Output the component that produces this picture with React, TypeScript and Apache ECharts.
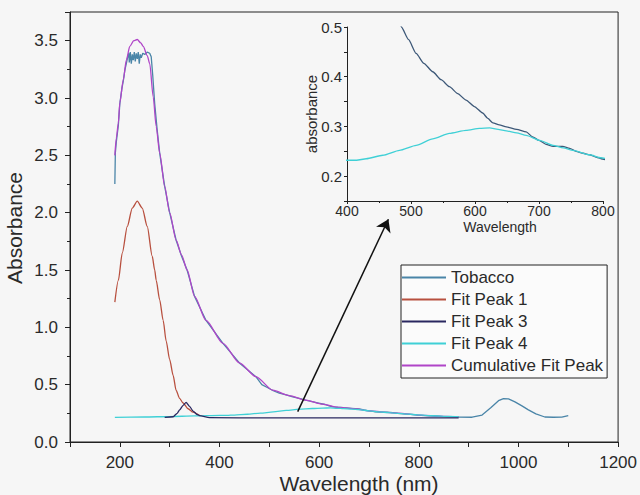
import React, { useEffect, useRef } from "react";
import * as echarts from "echarts";

const FONT = "'Liberation Sans', Arial, Helvetica, sans-serif";

const legendNames = ["Tobacco", "Fit Peak 1", "Fit Peak 3", "Fit Peak 4", "Cumulative Fit Peak"];

// Measured spectrum [wavelength (nm), absorbance]
const tobacco: number[][] = [
  [190, 2.25], [191, 2.52], [193, 2.62], [197, 2.76], [200, 2.95], [204, 3.08], [207, 3.15], [210, 3.24],
  [213, 3.3], [216, 3.36], [218, 3.39], [219, 3.31], [221, 3.4], [223, 3.3], [225, 3.38], [227, 3.33],
  [229, 3.4], [231, 3.32], [233, 3.39], [235, 3.34], [237, 3.4], [239, 3.3], [241, 3.38], [243, 3.35],
  [246, 3.39], [250, 3.38], [255, 3.4], [260, 3.39], [263, 3.36], [266, 3.2], [270, 2.95], [275, 2.72],
  [280, 2.52], [290, 2.23], [300, 2.0], [313, 1.76], [324, 1.62], [335, 1.5], [350, 1.27], [373, 1.06],
  [407, 0.86], [440, 0.69], [473, 0.57], [485, 0.5], [496, 0.475], [508, 0.447], [520, 0.427], [534, 0.41],
  [547, 0.394], [560, 0.38], [573, 0.366], [586, 0.353], [599, 0.34], [612, 0.327], [620, 0.316], [628, 0.307],
  [638, 0.303], [649, 0.299], [665, 0.294], [680, 0.289], [690, 0.279], [700, 0.272], [711, 0.264], [722, 0.26],
  [737, 0.26], [748, 0.256], [758, 0.25], [769, 0.246], [779, 0.243], [790, 0.238], [797, 0.235], [820, 0.228],
  [850, 0.222], [880, 0.218], [907, 0.216], [927, 0.235], [945, 0.3], [960, 0.36], [970, 0.378], [980, 0.376],
  [993, 0.35], [1007, 0.315], [1020, 0.28], [1035, 0.245], [1053, 0.218], [1070, 0.216], [1087, 0.217], [1100, 0.23],
];

const fitPeak1: number[][] = [
  [190, 1.22], [197, 1.41], [205, 1.65], [215, 1.88], [225, 2.04], [235, 2.1], [245, 2.04], [255, 1.88],
  [265, 1.62], [270, 1.5], [273, 1.41], [280, 1.24], [287, 1.06], [293, 0.88], [300, 0.72], [307, 0.58],
  [313, 0.45], [320, 0.38], [327, 0.34], [337, 0.29], [347, 0.26], [360, 0.23],
];

const fitPeak3: number[][] = [
  [290, 0.215], [307, 0.22], [315, 0.25], [320, 0.28], [327, 0.32], [333, 0.345], [340, 0.31], [347, 0.27],
  [355, 0.24], [360, 0.23], [380, 0.212], [500, 0.21], [700, 0.21], [880, 0.21],
];

const fitPeak4: number[][] = [
  [190, 0.215], [250, 0.218], [300, 0.222], [350, 0.227], [400, 0.232], [415, 0.232], [430, 0.235], [456, 0.242],
  [482, 0.252], [508, 0.262], [534, 0.275], [560, 0.286], [586, 0.292], [607, 0.296], [623, 0.297], [636, 0.294],
  [649, 0.291], [665, 0.287], [680, 0.282], [701, 0.272], [722, 0.262], [738, 0.257], [753, 0.252], [779, 0.243],
  [797, 0.237], [830, 0.229], [860, 0.223], [880, 0.22],
];

const cumulative: number[][] = [
  [190, 2.5], [193, 2.65], [197, 2.78], [200, 2.96], [207, 3.16], [213, 3.33], [220, 3.45], [228, 3.5],
  [235, 3.51], [242, 3.48], [247, 3.45], [255, 3.37], [260, 3.3], [267, 3.01], [273, 2.75], [280, 2.52],
  [290, 2.23], [300, 2.0], [313, 1.76], [324, 1.63], [335, 1.5], [350, 1.27], [373, 1.06], [407, 0.86],
  [440, 0.69], [473, 0.57], [507, 0.452], [540, 0.405], [573, 0.366], [607, 0.33], [640, 0.302], [673, 0.288],
  [700, 0.272], [750, 0.254], [800, 0.235], [850, 0.224], [880, 0.22],
];

// Arrow from main plot toward the inset (data coords of main axes)
const arrowFrom = [557, 0.265];
const arrowTo = [739, 1.943];

const COLORS = {
  tobacco: "#4a85a8",
  tobaccoInset: "#3d5878",
  peak1: "#b8503f",
  peak3: "#2a2860",
  peak4: "#3fd0d6",
  cumulative: "#b045c8",
  axis: "#222222",
  text: "#2a2a2a",
};

function lineSeries(name: string, data: number[][], color: string, idx: number, smooth: number | boolean, extra: any = {}) {
  return {
    type: "line",
    name,
    data,
    xAxisIndex: idx,
    yAxisIndex: idx,
    showSymbol: false,
    symbol: "none",
    color,
    smooth,
    smoothMonotone: "x",
    lineStyle: { color, width: 1.3 },
    itemStyle: { color },
    emphasis: { disabled: true },
    ...extra,
  };
}

export default function App() {
  const ref = useRef<HTMLDivElement>(null);

  useEffect(() => {
    if (!ref.current) return;
    const chart = echarts.init(ref.current, null, { renderer: "svg" });
    const axisLine = { show: true, lineStyle: { color: COLORS.axis, width: 1 } };
    chart.setOption({
      animation: false,
      backgroundColor: "#f6f6f6",
      textStyle: { fontFamily: FONT },
      grid: [
        { left: 70, top: 12, width: 550, height: 430, show: true, borderColor: COLORS.axis, borderWidth: 1, backgroundColor: "transparent" },
        { left: 347, top: 27, width: 256, height: 174, show: false },
      ],
      xAxis: [
        {
          type: "value", gridIndex: 0, min: 100, max: 1200, interval: 100,
          axisLine, splitLine: { show: false },
          axisTick: { show: true, length: 5, lineStyle: { color: COLORS.axis } },
          axisLabel: {
            fontSize: 17, color: COLORS.text, margin: 12, fontFamily: FONT,
            formatter: (v: number) => (Math.round(v) % 200 === 0 ? String(Math.round(v)) : ""),
          },
        },
        {
          type: "value", gridIndex: 1, min: 400, max: 800, interval: 100,
          axisLine, splitLine: { show: false },
          axisTick: { show: true, length: 3, lineStyle: { color: COLORS.axis } },
          minorTick: { show: true, splitNumber: 2, length: 2, lineStyle: { color: COLORS.axis } },
          axisLabel: { fontSize: 14, lineHeight: 14, color: COLORS.text, margin: 3, fontFamily: FONT },
        },
      ],
      yAxis: [
        {
          type: "value", gridIndex: 0, min: 0, max: 3.75, interval: 0.5,
          axisLine, splitLine: { show: false },
          axisTick: { show: true, length: 5, lineStyle: { color: COLORS.axis } },
          minorTick: { show: true, splitNumber: 2, length: 3, lineStyle: { color: COLORS.axis } },
          axisLabel: {
            fontSize: 17, color: COLORS.text, margin: 12, fontFamily: FONT,
            formatter: (v: number) => (v > 3.6 ? "" : v.toFixed(1)),
          },
        },
        {
          type: "value", gridIndex: 1, min: 0.15, max: 0.5, interval: 0.05,
          axisLine, splitLine: { show: false },
          axisTick: { show: true, length: 3, lineStyle: { color: COLORS.axis } },
          axisLabel: {
            fontSize: 15, color: COLORS.text, margin: 5, fontFamily: FONT,
            formatter: (v: number) => {
              const r = Math.round(v * 100);
              return r % 10 === 0 ? (r / 100).toFixed(1) : "";
            },
          },
        },
      ],
      legend: {
        data: legendNames,
        orient: "vertical",
        left: 401,
        top: 265,
        padding: [4, 4, 4, 1],
        itemGap: 5,
        itemWidth: 44,
        itemHeight: 2,
        icon: "rect",
        selectedMode: false,
        borderColor: COLORS.axis,
        borderWidth: 1,
        backgroundColor: "#fbfbfb",
        textStyle: { fontSize: 17, lineHeight: 17, color: COLORS.text, fontFamily: FONT },
      },
      series: [
        lineSeries("Tobacco", tobacco, COLORS.tobacco, 0, false),
        lineSeries("Cumulative Fit Peak", cumulative, COLORS.cumulative, 0, 0.25),
        lineSeries("Fit Peak 1", fitPeak1, COLORS.peak1, 0, 0.25),
        lineSeries("Fit Peak 4", fitPeak4, COLORS.peak4, 0, 0.25),
        lineSeries("Fit Peak 3", fitPeak3, COLORS.peak3, 0, 0.2, {
          markLine: {
            silent: true,
            symbol: ["none", "arrow"],
            symbolSize: 12,
            label: { show: false },
            lineStyle: { color: "#111", width: 1.5, type: "solid" },
            emphasis: { disabled: true },
            data: [[{ coord: arrowFrom }, { coord: arrowTo }]],
          },
        }),
        lineSeries("Tobacco (inset)", tobacco, COLORS.tobaccoInset, 1, 0.2),
        lineSeries("Fit Peak 4 (inset)", fitPeak4, COLORS.peak4, 1, 0.2),
      ],
      graphic: [
        {
          type: "text", x: 14, y: 228, rotation: Math.PI / 2,
          style: { text: "Absorbance", fontSize: 21, fontFamily: FONT, fill: COLORS.text, align: "center", verticalAlign: "middle" },
        },
        {
          type: "text", x: 359, y: 483,
          style: { text: "Wavelength (nm)", fontSize: 21, fontFamily: FONT, fill: COLORS.text, align: "center", verticalAlign: "middle" },
        },
        {
          type: "text", x: 311, y: 114, rotation: Math.PI / 2,
          style: { text: "absorbance", fontSize: 15, fontFamily: FONT, fill: COLORS.text, align: "center", verticalAlign: "middle" },
        },
        {
          type: "text", x: 500, y: 227,
          style: { text: "Wavelength", fontSize: 14, lineHeight: 14, fontFamily: FONT, fill: COLORS.text, align: "center", verticalAlign: "middle" },
        },
      ],
    });
    return () => chart.dispose();
  }, []);

  return (
    <div
      ref={ref}
      style={{ position: "absolute", left: 0, top: 0, width: 640, height: 495, background: "#f6f6f6" }}
    />
  );
}
